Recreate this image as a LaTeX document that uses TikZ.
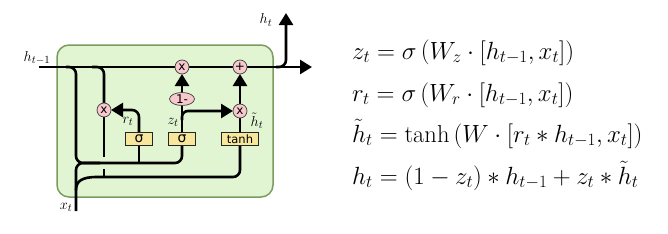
\documentclass[tikz,border=0pt]{standalone}
\usepackage{fontspec}
\setsansfont{DejaVu Sans}
\usetikzlibrary{arrows.meta,shapes.geometric}
\definecolor{cellfill}{HTML}{E1F5D3}
\definecolor{celldraw}{HTML}{7C9B5E}
\definecolor{oppink}{HTML}{F7C8CC}
\definecolor{gateyel}{HTML}{F6E79C}
\begin{document}
\begin{tikzpicture}[x=1pt,y=-1pt,
  wire/.style={line width=2.6pt},
  arr/.style={wire,-{Triangle[length=12pt,width=14pt]}},
  op/.style={circle,draw=black!75,fill=oppink,line width=0.7pt,minimum size=14pt,inner sep=0pt,font=\sffamily\fontsize{12}{12}\selectfont},
  gatebox/.style={rectangle,draw=black!85,fill=gateyel,line width=0.7pt,minimum height=13pt,inner sep=0pt,font=\sffamily\fontsize{14}{14}\selectfont},
  lbl/.style={font=\fontsize{15}{16}\selectfont,inner sep=0pt},
  eq/.style={anchor=base west,font=\fontsize{24.5}{28}\selectfont,inner sep=0pt}]
\useasboundingbox (0,0) rectangle (668,233);
% cell
\draw[draw=celldraw,fill=cellfill,line width=1.5pt,rounded corners=12pt] (57,45) rectangle (273,197);
% coordinates
\coordinate (hin) at (39,67);
\coordinate (hend) at (312,67);
\coordinate (htop) at (286,13);
\coordinate (xin) at (76,211);
% wires
\draw[arr] (hin) -- (hend);
\draw[arr,rounded corners=7pt] (276,67) -| (htop);
% left h branch + x_t to sigma bus
\draw[wire,rounded corners=7pt] (66,67) -| (76,163) -| (182,132);
\draw[wire,rounded corners=7pt] (xin) |- (100,163);
\draw[wire] (139,163) -- (139,132);
% second h branch to reset multiply
\draw[wire,rounded corners=7pt] (92,67) -| (104,103);
% reset product down
\draw[wire] (104,117) -- (104,157);
\draw[wire] (104,169) -- (104,177.5);
% x_t lower branch to tanh
\draw[wire,rounded corners=7pt] (76,190) .. controls (76,181) and (82,177) .. (104,177) -| (240,146);
% r_t arrow
\draw[arr,rounded corners=7pt] (139,132) |- (111,110);
% z_t
\draw[wire] (182,132) -- (182,105);
\draw[arr] (182,92.5) -- (182,74);
\draw[arr,rounded corners=6pt] (182,120) |- (233,111);
% tanh to mult to plus
\draw[wire] (240,132) -- (240,118);
\draw[arr] (240,104) -- (240,74);
% operation nodes
\node[op] (mulz) at (182,67) {x};
\node[op] (plus) at (240,67) {+};
\node[op] (mulr) at (104,110) {x};
\node[op] (mulh) at (240,111) {x};
\node[ellipse,draw=black!75,fill=oppink,line width=0.7pt,minimum width=25pt,minimum height=13pt,inner sep=0pt,font=\sffamily\fontsize{12}{12}\selectfont] (om) at (182,99) {1-};
\node[gatebox,minimum width=27pt] (sigr) at (139,139) {σ};
\node[gatebox,minimum width=27pt] (sigz) at (182,139) {σ};
\node[gatebox,minimum width=37pt,font=\sffamily\fontsize{11.5}{12}\selectfont] (tanhb) at (240,139) {tanh};
% labels
\node[lbl] (lhin) at (37,58) {$h_{t-1}$};
\node[lbl] (lhout) at (266,20) {$h_t$};
\node[lbl] (lxt) at (66,207) {$x_t$};
\node[lbl] (lrt) at (128,121) {$r_t$};
\node[lbl] (lzt) at (173,122) {$z_t$};
\node[lbl] (lht) at (257,121) {$\tilde{h}_t$};
% equations
\node[eq] (e1) at (352,59) {$z_t = \sigma\left(W_z\cdot[h_{t-1},x_t]\right)$};
\node[eq] (e2) at (352,101) {$r_t = \sigma\left(W_r\cdot[h_{t-1},x_t]\right)$};
\node[eq] (e3) at (352,142) {$\tilde{h}_t = \tanh\left(W\cdot[r_t*h_{t-1},x_t]\right)$};
\node[eq] (e4) at (352,184) {$h_t = (1-z_t)*h_{t-1}+z_t*\tilde{h}_t$};
\end{tikzpicture}
\end{document}
